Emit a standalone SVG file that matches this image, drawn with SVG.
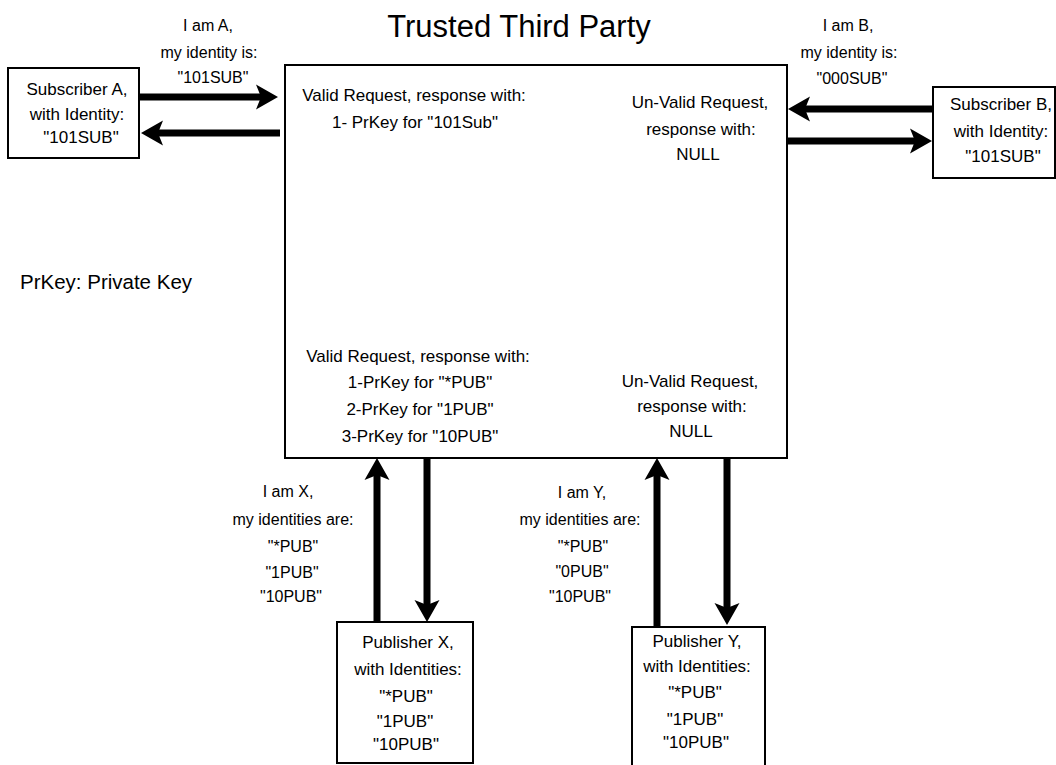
<svg xmlns="http://www.w3.org/2000/svg" width="1056" height="765" viewBox="0 0 1056 765">
  <style>
    text { font-family: "Liberation Sans", Arial, sans-serif; font-size: 17px; fill: #000; text-anchor: middle; }
    .title { font-size: 31px; }
    .lbl { font-size: 16px; }
    .note { font-size: 20.5px; text-anchor: start; }
    .box { fill: #fff; stroke: #000; stroke-width: 2; }
    .flow { fill: none; stroke: #000; stroke-width: 7; marker-end: url(#ah); }
  </style>
  <defs>
    <!-- notched arrowhead; line stops 15px short of the tip -->
    <marker id="ah" markerUnits="userSpaceOnUse" markerWidth="24" markerHeight="28" viewBox="0 0 24 28" refX="7" refY="14" orient="auto">
      <path d="M0,1.5 L22,14 L0,26.5 L5,14 Z" fill="#000"/>
    </marker>
  </defs>

  <rect width="1056" height="765" fill="#fff"/>

  <text class="title" x="519" y="37">Trusted Third Party</text>

  <g id="ttp">
    <rect class="box" x="285" y="65" width="502" height="393"/>
    <text x="414" y="101">Valid Request, response with:</text>
    <text x="415" y="128">1- PrKey for "101Sub"</text>
    <text x="700" y="108">Un-Valid Request,</text>
    <text x="701" y="135">response with:</text>
    <text x="698" y="160">NULL</text>
    <text x="418" y="362">Valid Request, response with:</text>
    <text x="420" y="388">1-PrKey for "*PUB"</text>
    <text x="420" y="415">2-PrKey for "1PUB"</text>
    <text x="420" y="442">3-PrKey for "10PUB"</text>
    <text x="690" y="387">Un-Valid Request,</text>
    <text x="692" y="412">response with:</text>
    <text x="691" y="437">NULL</text>
  </g>

  <g id="subscriber-a">
    <rect class="box" x="8" y="68" width="131" height="90"/>
    <text x="77" y="95">Subscriber A,</text>
    <text x="77" y="120">with Identity:</text>
    <text x="81" y="143">"101SUB"</text>
  </g>

  <g id="subscriber-b">
    <rect class="box" x="933" y="87" width="122" height="91"/>
    <text x="1001" y="110">Subscriber B,</text>
    <text x="1001" y="137">with Identity:</text>
    <text x="1003" y="162">"101SUB"</text>
  </g>

  <g id="publisher-x">
    <rect class="box" x="337" y="622" width="136" height="141"/>
    <text x="408" y="648">Publisher X,</text>
    <text x="408" y="675">with Identities:</text>
    <text x="406" y="702">"*PUB"</text>
    <text x="405" y="727">"1PUB"</text>
    <text x="406" y="750">"10PUB"</text>
  </g>

  <g id="publisher-y">
    <rect class="box" x="632" y="627" width="133" height="150"/>
    <text x="697" y="647">Publisher Y,</text>
    <text x="697" y="672">with Identities:</text>
    <text x="695" y="698">"*PUB"</text>
    <text x="695" y="725">"1PUB"</text>
    <text x="696" y="748">"10PUB"</text>
  </g>

  <g id="connectors">
    <line class="flow" x1="139" y1="97" x2="263" y2="97"/>
    <line class="flow" x1="280" y1="133" x2="156" y2="133"/>
    <line class="flow" x1="933" y1="109" x2="803" y2="109"/>
    <line class="flow" x1="787" y1="141" x2="917" y2="141"/>
    <line class="flow" x1="377" y1="622" x2="377" y2="473"/>
    <line class="flow" x1="427" y1="458" x2="427" y2="607"/>
    <line class="flow" x1="657" y1="627" x2="657" y2="473"/>
    <line class="flow" x1="727" y1="458" x2="727" y2="610"/>
  </g>

  <g id="labels">
    <text class="lbl" x="208" y="31">I am A,</text>
    <text class="lbl" x="209" y="58">my identity is:</text>
    <text class="lbl" x="213" y="83">"101SUB"</text>
    <text class="lbl" x="848" y="31">I am B,</text>
    <text class="lbl" x="849" y="58">my identity is:</text>
    <text class="lbl" x="852" y="84">"000SUB"</text>
    <text class="note" x="20" y="289">PrKey: Private Key</text>
    <text class="lbl" x="288" y="497">I am X,</text>
    <text class="lbl" x="293" y="525">my identities are:</text>
    <text class="lbl" x="293" y="552">"*PUB"</text>
    <text class="lbl" x="292" y="578">"1PUB"</text>
    <text class="lbl" x="291" y="602">"10PUB"</text>
    <text class="lbl" x="582" y="498">I am Y,</text>
    <text class="lbl" x="580" y="525">my identities are:</text>
    <text class="lbl" x="583" y="552">"*PUB"</text>
    <text class="lbl" x="582" y="577">"0PUB"</text>
    <text class="lbl" x="580" y="602">"10PUB"</text>
  </g>
</svg>
